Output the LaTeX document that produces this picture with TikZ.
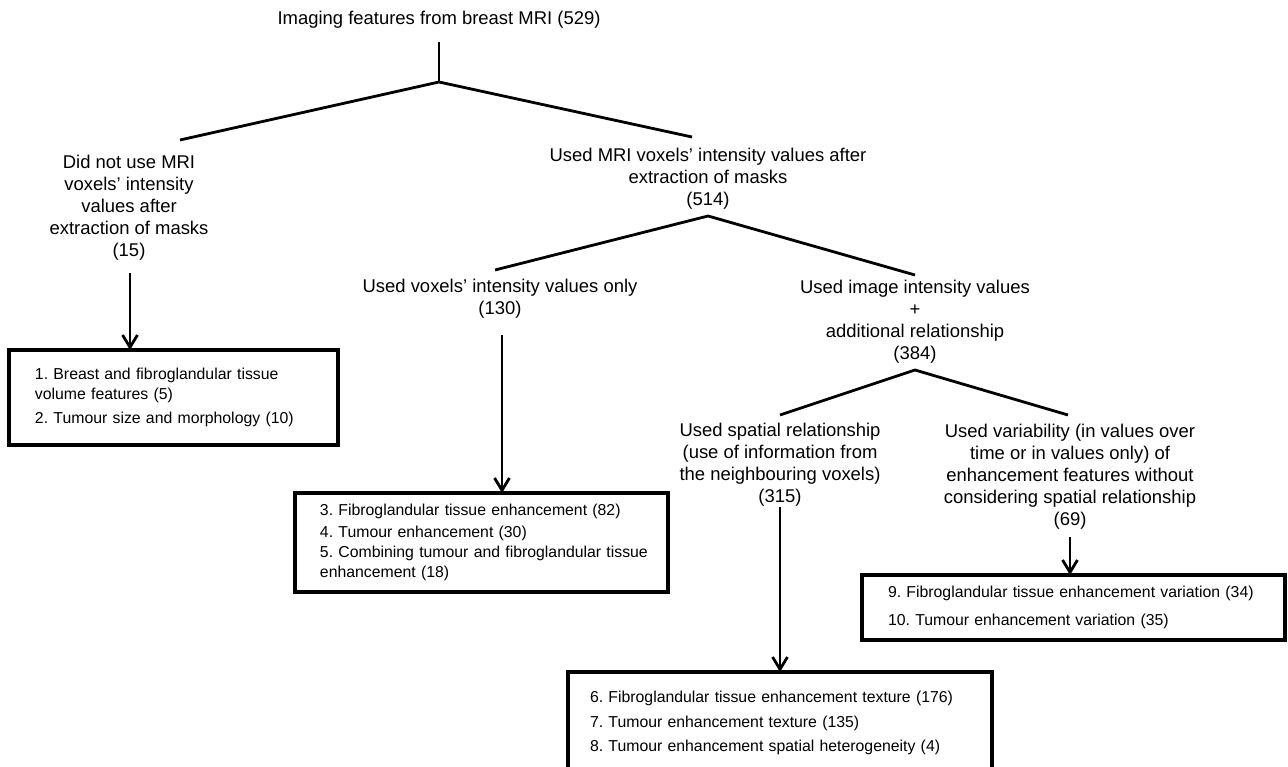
\documentclass[tikz,border=0pt]{standalone}
\usepackage{fontspec}
\setsansfont{Liberation Sans}
\usepackage{tikz}
\usetikzlibrary{arrows.meta}

\begin{document}
\begin{tikzpicture}[
  x=0.02cm, y=-0.02cm,
  % Global text styling
  every node/.style={font=\sffamily\fontsize{10.5}{12.5}\selectfont, align=center, inner sep=0pt},
  % Tree lines and arrows
  branch/.style={line width=1.6pt},
  arr/.style={line width=1.6pt, -{Straight Barb[length=7pt, width=8.5pt, line width=1.6pt]}},
  % Boxes at the end of each branch
  listbox/.style={draw, line width=1.8pt, outer sep=0pt, anchor=north west, align=left, inner xsep=0.52cm,
    font=\sffamily\fontsize{9}{11.4}\selectfont\frenchspacing}
]
\useasboundingbox (0,0) rectangle (1288,767);
\clip (0,0) rectangle (1288,767);

% Labels of the tree
\node (root) at (439,20) {Imaging features from breast MRI (529)};
\node (nouse) at (129,208) {Did not use MRI\\voxels’ intensity\\values after\\extraction of masks\\(15)};
\node (used) at (708,179) {Used MRI voxels’ intensity values after\\extraction of masks\\(514)};
\node (only) at (500,299) {Used voxels’ intensity values only\\(130)};
\node (addrel) at (915,322) {Used image intensity values\\+\\additional relationship\\(384)};
\node (spatial) at (780,465) {Used spatial relationship\\(use of information from\\the neighbouring voxels)\\(315)};
\node (variab) at (1070,477) {Used variability (in values over\\time or in values only) of\\enhancement features without\\considering spatial relationship\\(69)};

% Boxes
\node[listbox, text width=5.54cm, minimum height=1.9cm] (box1) at (9,350)
  {1. Breast and fibroglandular tissue\\volume features (5)\\[2pt]2. Tumour size and morphology (10)};
\node[listbox, text width=6.46cm, minimum height=1.98cm, inner xsep=0.5cm] (box3) at (295,493)
  {3. Fibroglandular tissue enhancement (82)\\[1pt]4. Tumour enhancement (30)\\\mbox{5. Combining tumour and fibroglandular tissue}\\enhancement (18)};
\node[listbox, text width=7.6cm, minimum height=2.04cm, inner xsep=0.44cm] (box6) at (568,672)
  {6. Fibroglandular tissue enhancement texture (176)\\[2.5pt]7. Tumour enhancement texture (135)\\[2.5pt]8. Tumour enhancement spatial heterogeneity (4)};
\node[listbox, text width=7.42cm, minimum height=1.3cm] (box9) at (862,575)
  {9. Fibroglandular tissue enhancement variation (34)\\[4.5pt]10. Tumour enhancement variation (35)};

% Forks
\coordinate (roottop) at (439,42);
\coordinate (rootfork) at (439,82);
\coordinate (nouseend) at (180,140);
\coordinate (usedend) at (692,137);
\draw[branch] (roottop) -- (rootfork);
\draw[branch] (nouseend) -- (rootfork) -- (usedend);

\coordinate (usedfork) at (708,216);
\coordinate (onlyend) at (495,270);
\coordinate (addrelend) at (915,275);
\draw[branch] (onlyend) -- (usedfork) -- (addrelend);

\coordinate (addrelfork) at (915,370);
\coordinate (spatialend) at (780,415);
\coordinate (variabend) at (1068,415);
\draw[branch] (spatialend) -- (addrelfork) -- (variabend);

% Arrows down to the boxes
\coordinate (nousearr) at (130,273);
\coordinate (onlyarr) at (502,335);
\coordinate (spatialarr) at (780,507);
\coordinate (variabarr) at (1070,537);
\draw[arr] (nousearr) -- (nousearr |- box1.north);
\draw[arr] (onlyarr) -- (onlyarr |- box3.north);
\draw[arr] (spatialarr) -- (spatialarr |- box6.north);
\draw[arr] (variabarr) -- (variabarr |- box9.north);

\end{tikzpicture}
\end{document}
